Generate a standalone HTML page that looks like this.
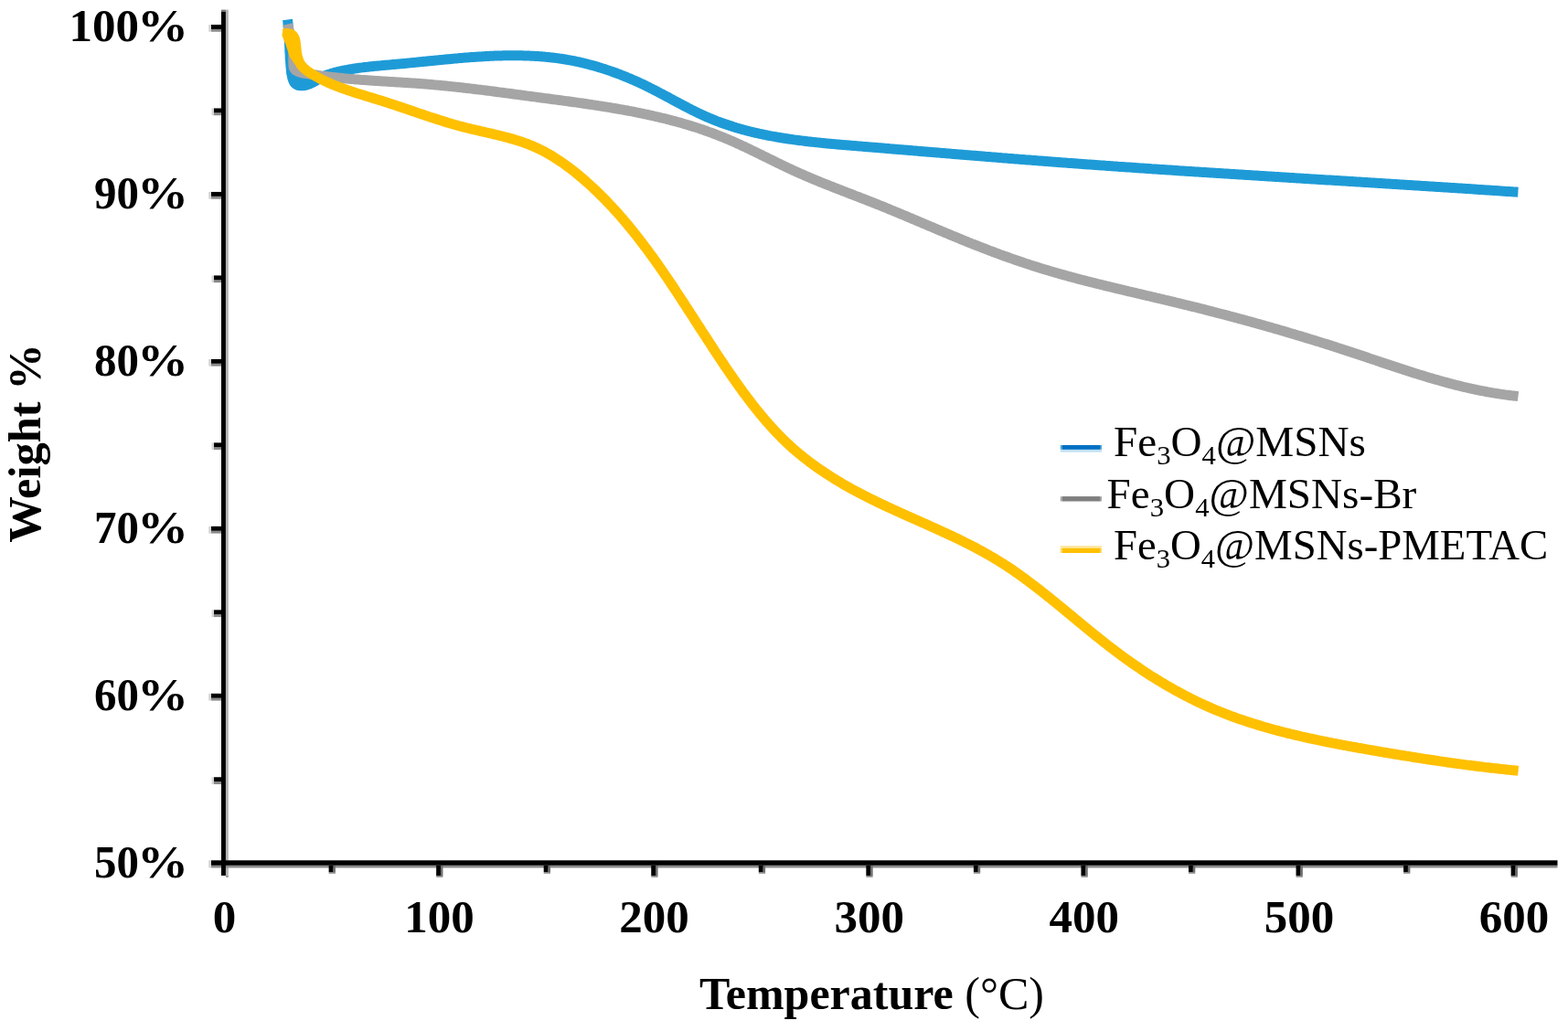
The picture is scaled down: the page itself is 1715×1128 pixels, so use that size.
<!DOCTYPE html>
<html><head><meta charset="utf-8"><title>TGA</title>
<style>html,body{margin:0;padding:0;background:#fff;}svg{display:block;}</style>
</head><body>
<svg width="1715" height="1128" viewBox="0 0 1715 1128">
<rect width="1715" height="1128" fill="#fff"/>
<rect x="246.90" y="10.60" width="2.90" height="949.00" fill="#b4b4b4"/>
<rect x="231.00" y="946.80" width="1472.50" height="2.70" fill="#8a8a8a"/>
<rect x="228.20" y="941.30" width="2.80" height="8.20" fill="#d6d6d6"/>
<rect x="231.00" y="31.90" width="11.00" height="2.85" fill="#8a8a8a"/>
<rect x="228.20" y="27.00" width="2.80" height="7.75" fill="#d6d6d6"/>
<rect x="231.00" y="214.85" width="11.00" height="2.85" fill="#8a8a8a"/>
<rect x="228.20" y="209.95" width="2.80" height="7.75" fill="#d6d6d6"/>
<rect x="231.00" y="397.80" width="11.00" height="2.85" fill="#8a8a8a"/>
<rect x="228.20" y="392.90" width="2.80" height="7.75" fill="#d6d6d6"/>
<rect x="231.00" y="580.75" width="11.00" height="2.85" fill="#8a8a8a"/>
<rect x="228.20" y="575.85" width="2.80" height="7.75" fill="#d6d6d6"/>
<rect x="231.00" y="763.70" width="11.00" height="2.85" fill="#8a8a8a"/>
<rect x="228.20" y="758.80" width="2.80" height="7.75" fill="#d6d6d6"/>
<rect x="234.00" y="123.38" width="8.00" height="2.85" fill="#8a8a8a"/>
<rect x="231.50" y="118.47" width="2.50" height="7.75" fill="#d6d6d6"/>
<rect x="234.00" y="306.32" width="8.00" height="2.85" fill="#8a8a8a"/>
<rect x="231.50" y="301.42" width="2.50" height="7.75" fill="#d6d6d6"/>
<rect x="234.00" y="489.27" width="8.00" height="2.85" fill="#8a8a8a"/>
<rect x="231.50" y="484.38" width="2.50" height="7.75" fill="#d6d6d6"/>
<rect x="234.00" y="672.23" width="8.00" height="2.85" fill="#8a8a8a"/>
<rect x="231.50" y="667.32" width="2.50" height="7.75" fill="#d6d6d6"/>
<rect x="234.00" y="855.18" width="8.00" height="2.85" fill="#8a8a8a"/>
<rect x="231.50" y="850.27" width="2.50" height="7.75" fill="#d6d6d6"/>
<rect x="481.95" y="946.80" width="2.50" height="11.20" fill="#6e6e6e"/>
<rect x="477.15" y="958.00" width="7.30" height="1.80" fill="#8a8a8a"/>
<rect x="717.05" y="946.80" width="2.50" height="11.20" fill="#6e6e6e"/>
<rect x="712.25" y="958.00" width="7.30" height="1.80" fill="#8a8a8a"/>
<rect x="952.15" y="946.80" width="2.50" height="11.20" fill="#6e6e6e"/>
<rect x="947.35" y="958.00" width="7.30" height="1.80" fill="#8a8a8a"/>
<rect x="1187.25" y="946.80" width="2.50" height="11.20" fill="#6e6e6e"/>
<rect x="1182.45" y="958.00" width="7.30" height="1.80" fill="#8a8a8a"/>
<rect x="1422.35" y="946.80" width="2.50" height="11.20" fill="#6e6e6e"/>
<rect x="1417.55" y="958.00" width="7.30" height="1.80" fill="#8a8a8a"/>
<rect x="1657.45" y="946.80" width="2.50" height="11.20" fill="#6e6e6e"/>
<rect x="1652.65" y="958.00" width="7.30" height="1.80" fill="#8a8a8a"/>
<rect x="364.40" y="946.80" width="2.50" height="7.20" fill="#6e6e6e"/>
<rect x="359.60" y="954.00" width="7.30" height="1.80" fill="#8a8a8a"/>
<rect x="599.50" y="946.80" width="2.50" height="7.20" fill="#6e6e6e"/>
<rect x="594.70" y="954.00" width="7.30" height="1.80" fill="#8a8a8a"/>
<rect x="834.60" y="946.80" width="2.50" height="7.20" fill="#6e6e6e"/>
<rect x="829.80" y="954.00" width="7.30" height="1.80" fill="#8a8a8a"/>
<rect x="1069.70" y="946.80" width="2.50" height="7.20" fill="#6e6e6e"/>
<rect x="1064.90" y="954.00" width="7.30" height="1.80" fill="#8a8a8a"/>
<rect x="1304.80" y="946.80" width="2.50" height="7.20" fill="#6e6e6e"/>
<rect x="1300.00" y="954.00" width="7.30" height="1.80" fill="#8a8a8a"/>
<rect x="1539.90" y="946.80" width="2.50" height="7.20" fill="#6e6e6e"/>
<rect x="1535.10" y="954.00" width="7.30" height="1.80" fill="#8a8a8a"/>
<rect x="242.00" y="10.60" width="4.90" height="2.20" fill="#7a7a7a"/>
<rect x="246.90" y="958.00" width="2.90" height="1.80" fill="#9a9a9a"/>
<rect x="242.00" y="12.80" width="4.90" height="945.20" fill="#000"/>
<rect x="231.00" y="941.30" width="1472.50" height="5.50" fill="#000"/>
<rect x="231.00" y="27.00" width="11.00" height="4.90" fill="#000"/>
<rect x="231.00" y="209.95" width="11.00" height="4.90" fill="#000"/>
<rect x="231.00" y="392.90" width="11.00" height="4.90" fill="#000"/>
<rect x="231.00" y="575.85" width="11.00" height="4.90" fill="#000"/>
<rect x="231.00" y="758.80" width="11.00" height="4.90" fill="#000"/>
<rect x="234.00" y="118.47" width="8.00" height="4.90" fill="#000"/>
<rect x="234.00" y="301.42" width="8.00" height="4.90" fill="#000"/>
<rect x="234.00" y="484.38" width="8.00" height="4.90" fill="#000"/>
<rect x="234.00" y="667.32" width="8.00" height="4.90" fill="#000"/>
<rect x="234.00" y="850.27" width="8.00" height="4.90" fill="#000"/>
<rect x="477.15" y="946.80" width="4.80" height="11.20" fill="#000"/>
<rect x="712.25" y="946.80" width="4.80" height="11.20" fill="#000"/>
<rect x="947.35" y="946.80" width="4.80" height="11.20" fill="#000"/>
<rect x="1182.45" y="946.80" width="4.80" height="11.20" fill="#000"/>
<rect x="1417.55" y="946.80" width="4.80" height="11.20" fill="#000"/>
<rect x="1652.65" y="946.80" width="4.80" height="11.20" fill="#000"/>
<rect x="359.60" y="946.80" width="4.80" height="7.20" fill="#000"/>
<rect x="594.70" y="946.80" width="4.80" height="7.20" fill="#000"/>
<rect x="829.80" y="946.80" width="4.80" height="7.20" fill="#000"/>
<rect x="1064.90" y="946.80" width="4.80" height="7.20" fill="#000"/>
<rect x="1300.00" y="946.80" width="4.80" height="7.20" fill="#000"/>
<rect x="1535.10" y="946.80" width="4.80" height="7.20" fill="#000"/>
<g fill="none" stroke-width="11.0" stroke-linejoin="round" stroke-linecap="butt">
<path stroke="#1e9bd7" d="M314.5,21.5L314.7,23.1L314.9,24.7L315.0,26.3L315.2,27.9L315.3,29.5L315.5,31.1L315.6,32.6L315.7,34.2L315.8,35.8L315.9,37.4L316.0,39.0L316.1,40.6L316.2,42.2L316.3,43.8L316.4,45.3L316.5,46.9L316.5,48.5L316.6,50.1L316.7,51.7L316.8,53.3L316.8,54.9L316.9,56.4L317.0,58.0L317.1,59.6L317.2,61.2L317.2,62.8L317.3,64.4L317.5,66.0L317.6,67.6L317.7,69.2L317.8,70.8L318.0,72.4L318.1,74.0L318.3,75.6L318.4,77.2L318.6,78.8L318.8,80.4L319.1,82.0L319.4,83.5L319.7,85.1L320.2,86.6L320.7,88.1L321.4,89.5L322.2,90.8L323.3,91.9L324.5,92.7L326.0,93.3L327.6,93.6L329.3,93.8L331.0,93.7L332.7,93.6L334.3,93.3L335.9,92.8L337.4,92.3L338.9,91.8L340.4,91.1L341.8,90.4L343.2,89.6L344.6,88.9L345.9,88.0L347.3,87.2L348.7,86.4L350.0,85.6L351.4,84.8L352.8,84.1L354.3,83.4L355.7,82.8L357.2,82.2L358.7,81.6L360.2,81.1L361.7,80.6L363.2,80.1L364.7,79.7L366.3,79.2L367.8,78.9L369.4,78.5L370.9,78.1L372.5,77.8L374.0,77.5L375.6,77.1L377.2,76.8L378.7,76.6L380.3,76.3L381.9,76.0L383.4,75.7L385.0,75.5L386.6,75.2L388.1,75.0L389.7,74.8L391.3,74.5L392.8,74.3L394.4,74.1L396.0,73.9L397.6,73.7L399.1,73.5L400.7,73.4L402.3,73.2L403.8,73.0L405.4,72.8L407.0,72.7L408.5,72.5L410.1,72.3L411.7,72.2L413.3,72.0L414.8,71.9L416.4,71.8L418.0,71.6L419.6,71.5L421.1,71.3L422.7,71.2L424.3,71.1L425.9,70.9L427.5,70.8L429.0,70.6L430.6,70.5L432.2,70.4L433.8,70.2L435.4,70.1L437.0,69.9L438.5,69.8L440.1,69.7L441.7,69.5L443.3,69.4L444.9,69.2L446.5,69.1L448.1,68.9L449.7,68.7L451.2,68.6L452.8,68.4L454.4,68.3L456.0,68.1L457.6,68.0L459.2,67.8L460.8,67.6L462.4,67.5L464.0,67.3L465.6,67.2L467.2,67.0L468.8,66.8L470.4,66.7L472.0,66.5L473.6,66.4L475.2,66.2L476.8,66.0L478.4,65.9L480.0,65.7L481.6,65.6L483.2,65.4L484.8,65.3L486.4,65.1L488.0,65.0L489.6,64.8L491.2,64.7L492.8,64.5L494.4,64.4L496.0,64.2L497.6,64.1L499.2,63.9L500.8,63.8L502.4,63.6L504.0,63.5L505.6,63.4L507.2,63.2L508.8,63.1L510.4,63.0L512.0,62.9L513.6,62.7L515.2,62.6L516.8,62.5L518.4,62.4L520.0,62.3L521.7,62.2L523.3,62.1L524.9,62.0L526.5,61.9L528.1,61.8L529.7,61.7L531.3,61.6L532.9,61.5L534.5,61.4L536.1,61.3L537.7,61.3L539.3,61.2L540.9,61.1L542.5,61.1L544.1,61.0L545.7,61.0L547.3,60.9L548.9,60.9L550.4,60.8L552.0,60.8L553.6,60.8L555.2,60.8L556.8,60.7L558.4,60.7L560.0,60.7L561.6,60.7L563.2,60.7L564.8,60.7L566.4,60.8L568.0,60.8L569.6,60.8L571.2,60.8L572.7,60.9L574.3,60.9L575.9,61.0L577.5,61.0L579.1,61.1L580.7,61.2L582.2,61.2L583.8,61.3L585.4,61.4L587.0,61.5L588.6,61.6L590.1,61.7L591.7,61.8L593.3,62.0L594.9,62.1L596.5,62.2L598.0,62.4L599.6,62.5L601.2,62.7L602.7,62.9L604.3,63.0L605.9,63.2L607.4,63.4L609.0,63.6L610.6,63.8L612.1,64.1L613.7,64.3L615.3,64.5L616.8,64.8L618.4,65.0L619.9,65.3L621.5,65.6L623.0,65.8L624.6,66.1L626.1,66.4L627.7,66.7L629.2,67.0L630.8,67.4L632.3,67.7L633.9,68.0L635.4,68.4L636.9,68.7L638.5,69.1L640.0,69.5L641.6,69.9L643.1,70.3L644.6,70.7L646.2,71.1L647.7,71.5L649.2,71.9L650.7,72.3L652.3,72.8L653.8,73.2L655.3,73.7L656.8,74.1L658.3,74.6L659.8,75.1L661.4,75.6L662.9,76.1L664.4,76.6L665.9,77.1L667.4,77.6L668.9,78.1L670.4,78.7L671.9,79.2L673.4,79.7L674.9,80.3L676.4,80.9L677.9,81.4L679.3,82.0L680.8,82.6L682.3,83.2L683.8,83.8L685.3,84.4L686.7,85.0L688.2,85.6L689.7,86.2L691.2,86.9L692.6,87.5L694.1,88.1L695.5,88.8L697.0,89.4L698.5,90.1L699.9,90.8L701.4,91.5L702.8,92.1L704.3,92.8L705.7,93.5L707.1,94.2L708.6,94.9L710.0,95.7L711.4,96.4L712.9,97.1L714.3,97.8L715.7,98.6L717.2,99.3L718.6,100.0L720.0,100.8L721.4,101.5L722.9,102.3L724.3,103.0L725.7,103.8L727.1,104.5L728.5,105.3L729.9,106.1L731.4,106.8L732.8,107.6L734.2,108.3L735.6,109.1L737.0,109.9L738.4,110.6L739.8,111.4L741.3,112.1L742.7,112.9L744.1,113.6L745.5,114.4L746.9,115.1L748.3,115.9L749.8,116.6L751.2,117.4L752.6,118.1L754.0,118.8L755.4,119.5L756.9,120.3L758.3,121.0L759.7,121.7L761.1,122.4L762.6,123.1L764.0,123.8L765.4,124.5L766.9,125.1L768.3,125.8L769.8,126.5L771.2,127.1L772.6,127.8L774.1,128.4L775.5,129.0L777.0,129.6L778.5,130.2L779.9,130.8L781.4,131.4L782.8,132.0L784.3,132.6L785.8,133.1L787.3,133.7L788.7,134.2L790.2,134.8L791.7,135.3L793.2,135.8L794.7,136.3L796.2,136.8L797.7,137.3L799.2,137.8L800.7,138.3L802.2,138.8L803.7,139.2L805.2,139.7L806.7,140.1L808.2,140.6L809.7,141.0L811.2,141.4L812.8,141.9L814.3,142.3L815.8,142.7L817.3,143.1L818.8,143.5L820.4,143.9L821.9,144.2L823.4,144.6L825.0,145.0L826.5,145.3L828.1,145.7L829.6,146.0L831.1,146.4L832.7,146.7L834.2,147.0L835.8,147.3L837.3,147.7L838.9,148.0L840.4,148.3L842.0,148.6L843.6,148.9L845.1,149.1L846.7,149.4L848.2,149.7L849.8,150.0L851.4,150.2L852.9,150.5L854.5,150.8L856.1,151.0L857.6,151.3L859.2,151.5L860.8,151.8L862.4,152.0L863.9,152.2L865.5,152.4L867.1,152.7L868.7,152.9L870.2,153.1L871.8,153.3L873.4,153.5L875.0,153.7L876.6,153.9L878.2,154.1L879.8,154.3L881.3,154.5L882.9,154.7L884.5,154.9L886.1,155.0L887.7,155.2L889.3,155.4L890.9,155.6L892.5,155.7L894.1,155.9L895.7,156.1L897.3,156.2L898.9,156.4L900.5,156.5L902.0,156.7L903.6,156.9L905.2,157.0L906.8,157.2L908.4,157.3L910.0,157.4L911.6,157.6L913.2,157.7L914.8,157.9L916.4,158.0L918.0,158.2L919.6,158.3L921.2,158.4L922.8,158.6L924.4,158.7L926.0,158.8L927.6,159.0L929.2,159.1L930.8,159.2L932.4,159.4L934.0,159.5L935.6,159.6L937.2,159.7L938.8,159.9L940.4,160.0L942.0,160.1L943.6,160.3L945.2,160.4L946.8,160.5L948.4,160.7L950.0,160.8L951.6,160.9L953.2,161.1L954.8,161.2L956.4,161.3L958.0,161.5L959.6,161.6L961.2,161.7L962.8,161.8L964.4,162.0L966.0,162.1L967.6,162.2L969.2,162.4L970.8,162.5L972.4,162.6L973.9,162.8L975.5,162.9L977.1,163.0L978.7,163.2L980.3,163.3L981.9,163.4L983.5,163.6L985.1,163.7L986.7,163.8L988.3,163.9L989.9,164.1L991.5,164.2L993.1,164.3L994.6,164.5L996.2,164.6L997.8,164.7L999.4,164.9L1001.0,165.0L1002.6,165.1L1004.2,165.3L1005.8,165.4L1007.4,165.5L1009.0,165.7L1010.5,165.8L1012.1,165.9L1013.7,166.0L1015.3,166.2L1016.9,166.3L1018.5,166.4L1020.1,166.6L1021.7,166.7L1023.3,166.8L1024.8,167.0L1026.4,167.1L1028.0,167.2L1029.6,167.4L1031.2,167.5L1032.8,167.6L1034.4,167.7L1036.0,167.9L1037.5,168.0L1039.1,168.1L1040.7,168.3L1042.3,168.4L1043.9,168.5L1045.5,168.7L1047.1,168.8L1048.7,168.9L1050.2,169.0L1051.8,169.2L1053.4,169.3L1055.0,169.4L1056.6,169.6L1058.2,169.7L1059.8,169.8L1061.3,169.9L1062.9,170.1L1064.5,170.2L1066.1,170.3L1067.7,170.5L1069.3,170.6L1070.9,170.7L1072.4,170.8L1074.0,171.0L1075.6,171.1L1077.2,171.2L1078.8,171.4L1080.4,171.5L1081.9,171.6L1083.5,171.7L1085.1,171.9L1086.7,172.0L1088.3,172.1L1089.9,172.2L1091.5,172.4L1093.0,172.5L1094.6,172.6L1096.2,172.8L1097.8,172.9L1099.4,173.0L1101.0,173.1L1102.5,173.3L1104.1,173.4L1105.7,173.5L1107.3,173.6L1108.9,173.8L1110.5,173.9L1112.1,174.0L1113.6,174.1L1115.2,174.3L1116.8,174.4L1118.4,174.5L1120.0,174.6L1121.6,174.8L1123.1,174.9L1124.7,175.0L1126.3,175.1L1127.9,175.2L1129.5,175.4L1131.1,175.5L1132.7,175.6L1134.2,175.7L1135.8,175.9L1137.4,176.0L1139.0,176.1L1140.6,176.2L1142.2,176.3L1143.7,176.5L1145.3,176.6L1146.9,176.7L1148.5,176.8L1150.1,176.9L1151.7,177.1L1153.3,177.2L1154.8,177.3L1156.4,177.4L1158.0,177.5L1159.6,177.7L1161.2,177.8L1162.8,177.9L1164.4,178.0L1165.9,178.1L1167.5,178.3L1169.1,178.4L1170.7,178.5L1172.3,178.6L1173.9,178.7L1175.5,178.8L1177.0,179.0L1178.6,179.1L1180.2,179.2L1181.8,179.3L1183.4,179.4L1185.0,179.5L1186.6,179.7L1188.2,179.8L1189.7,179.9L1191.3,180.0L1192.9,180.1L1194.5,180.2L1196.1,180.3L1197.7,180.5L1199.3,180.6L1200.8,180.7L1202.4,180.8L1204.0,180.9L1205.6,181.0L1207.2,181.1L1208.8,181.2L1210.4,181.4L1212.0,181.5L1213.6,181.6L1215.1,181.7L1216.7,181.8L1218.3,181.9L1219.9,182.0L1221.5,182.1L1223.1,182.3L1224.7,182.4L1226.3,182.5L1227.8,182.6L1229.4,182.7L1231.0,182.8L1232.6,182.9L1234.2,183.0L1235.8,183.1L1237.4,183.2L1239.0,183.3L1240.6,183.5L1242.1,183.6L1243.7,183.7L1245.3,183.8L1246.9,183.9L1248.5,184.0L1250.1,184.1L1251.7,184.2L1253.3,184.3L1254.9,184.4L1256.5,184.5L1258.0,184.6L1259.6,184.8L1261.2,184.9L1262.8,185.0L1264.4,185.1L1266.0,185.2L1267.6,185.3L1269.2,185.4L1270.8,185.5L1272.4,185.6L1273.9,185.7L1275.5,185.8L1277.1,185.9L1278.7,186.0L1280.3,186.1L1281.9,186.2L1283.5,186.3L1285.1,186.4L1286.7,186.5L1288.3,186.7L1289.8,186.8L1291.4,186.9L1293.0,187.0L1294.6,187.1L1296.2,187.2L1297.8,187.3L1299.4,187.4L1301.0,187.5L1302.6,187.6L1304.2,187.7L1305.8,187.8L1307.3,187.9L1308.9,188.0L1310.5,188.1L1312.1,188.2L1313.7,188.3L1315.3,188.4L1316.9,188.5L1318.5,188.6L1320.1,188.7L1321.7,188.8L1323.3,188.9L1324.9,189.0L1326.4,189.1L1328.0,189.2L1329.6,189.3L1331.2,189.4L1332.8,189.5L1334.4,189.6L1336.0,189.7L1337.6,189.8L1339.2,189.9L1340.8,190.0L1342.4,190.1L1344.0,190.2L1345.5,190.3L1347.1,190.4L1348.7,190.5L1350.3,190.6L1351.9,190.7L1353.5,190.8L1355.1,190.9L1356.7,191.0L1358.3,191.1L1359.9,191.2L1361.5,191.3L1363.1,191.4L1364.6,191.5L1366.2,191.6L1367.8,191.7L1369.4,191.8L1371.0,191.9L1372.6,192.0L1374.2,192.1L1375.8,192.2L1377.4,192.3L1379.0,192.4L1380.6,192.5L1382.2,192.6L1383.8,192.7L1385.3,192.8L1386.9,192.9L1388.5,193.0L1390.1,193.1L1391.7,193.2L1393.3,193.3L1394.9,193.4L1396.5,193.5L1398.1,193.6L1399.7,193.7L1401.3,193.8L1402.9,193.9L1404.4,194.0L1406.0,194.1L1407.6,194.2L1409.2,194.3L1410.8,194.4L1412.4,194.5L1414.0,194.6L1415.6,194.7L1417.2,194.8L1418.8,194.9L1420.4,195.0L1422.0,195.1L1423.6,195.2L1425.1,195.3L1426.7,195.4L1428.3,195.5L1429.9,195.6L1431.5,195.7L1433.1,195.8L1434.7,195.9L1436.3,196.0L1437.9,196.1L1439.5,196.2L1441.1,196.3L1442.7,196.4L1444.2,196.5L1445.8,196.6L1447.4,196.7L1449.0,196.8L1450.6,196.9L1452.2,196.9L1453.8,197.0L1455.4,197.1L1457.0,197.2L1458.6,197.3L1460.2,197.4L1461.8,197.5L1463.4,197.6L1464.9,197.7L1466.5,197.8L1468.1,197.9L1469.7,198.0L1471.3,198.1L1472.9,198.2L1474.5,198.3L1476.1,198.4L1477.7,198.5L1479.3,198.6L1480.9,198.7L1482.4,198.8L1484.0,198.9L1485.6,199.0L1487.2,199.1L1488.8,199.2L1490.4,199.3L1492.0,199.4L1493.6,199.5L1495.2,199.6L1496.8,199.7L1498.4,199.8L1500.0,199.9L1501.5,200.0L1503.1,200.1L1504.7,200.2L1506.3,200.3L1507.9,200.4L1509.5,200.5L1511.1,200.6L1512.7,200.7L1514.3,200.8L1515.9,200.9L1517.5,201.0L1519.0,201.1L1520.6,201.2L1522.2,201.3L1523.8,201.4L1525.4,201.5L1527.0,201.6L1528.6,201.7L1530.2,201.8L1531.8,201.9L1533.4,202.0L1534.9,202.1L1536.5,202.2L1538.1,202.3L1539.7,202.4L1541.3,202.5L1542.9,202.6L1544.5,202.7L1546.1,202.8L1547.7,202.9L1549.3,203.0L1550.8,203.1L1552.4,203.2L1554.0,203.3L1555.6,203.4L1557.2,203.5L1558.8,203.6L1560.4,203.7L1562.0,203.8L1563.6,203.9L1565.1,204.0L1566.7,204.1L1568.3,204.2L1569.9,204.3L1571.5,204.4L1573.1,204.5L1574.7,204.6L1576.3,204.7L1577.9,204.8L1579.4,204.9L1581.0,205.0L1582.6,205.1L1584.2,205.2L1585.8,205.3L1587.4,205.4L1589.0,205.5L1590.6,205.6L1592.2,205.7L1593.7,205.8L1595.3,205.9L1596.9,206.0L1598.5,206.1L1600.1,206.2L1601.7,206.3L1603.3,206.4L1604.9,206.5L1606.4,206.6L1608.0,206.7L1609.6,206.8L1611.2,206.9L1612.8,207.0L1614.4,207.2L1616.0,207.3L1617.6,207.4L1619.1,207.5L1620.7,207.6L1622.3,207.7L1623.9,207.8L1625.5,207.9L1627.1,208.0L1628.7,208.1L1630.2,208.2L1631.8,208.3L1633.4,208.4L1635.0,208.5L1636.6,208.6L1638.2,208.7L1639.8,208.8L1641.3,208.9L1642.9,209.1L1644.5,209.2L1646.1,209.3L1647.7,209.4L1649.3,209.5L1650.9,209.6L1652.4,209.7L1654.0,209.8L1655.6,209.9L1657.2,210.0L1658.8,210.1L1660.4,210.2"/>
<path stroke="#1e9bd7" stroke-linecap="round" d="M319,80 L325,88 L336,90"/>
<path stroke="#a5a5a5" d="M314.5,26.5L314.9,28.1L315.3,29.6L315.7,31.2L316.1,32.7L316.5,34.3L316.9,35.8L317.3,37.4L317.7,38.9L318.1,40.5L318.5,42.1L318.8,43.6L319.2,45.2L319.5,46.8L319.7,48.4L320.0,50.0L320.2,51.5L320.4,53.1L320.5,54.7L320.6,56.3L320.7,57.9L320.7,59.5L320.8,61.2L320.8,62.8L320.8,64.4L320.8,66.1L320.8,67.7L320.8,69.4L320.9,71.1L321.1,72.7L321.5,74.2L322.1,75.5L323.0,76.6L324.2,77.5L325.5,78.2L327.0,78.8L328.6,79.3L330.3,79.7L331.9,80.1L333.5,80.4L335.2,80.6L336.8,80.9L338.4,81.1L340.0,81.3L341.6,81.6L343.2,81.8L344.8,82.0L346.4,82.2L348.0,82.5L349.6,82.7L351.2,82.9L352.7,83.1L354.3,83.3L355.9,83.5L357.5,83.7L359.1,83.9L360.7,84.1L362.3,84.3L363.8,84.5L365.4,84.7L367.0,84.8L368.6,85.0L370.2,85.2L371.8,85.3L373.4,85.5L375.0,85.6L376.6,85.8L378.2,85.9L379.8,86.1L381.4,86.2L383.0,86.4L384.6,86.5L386.2,86.6L387.8,86.8L389.4,86.9L391.0,87.0L392.6,87.1L394.2,87.3L395.8,87.4L397.4,87.5L399.0,87.6L400.6,87.7L402.3,87.8L403.9,87.9L405.5,88.0L407.1,88.2L408.7,88.3L410.3,88.4L411.9,88.5L413.5,88.6L415.1,88.7L416.7,88.8L418.4,88.9L420.0,89.0L421.6,89.1L423.2,89.2L424.8,89.3L426.4,89.4L428.0,89.5L429.6,89.6L431.2,89.7L432.8,89.8L434.5,89.9L436.1,90.0L437.7,90.1L439.3,90.2L440.9,90.3L442.5,90.4L444.1,90.5L445.7,90.6L447.3,90.7L448.9,90.8L450.5,90.9L452.2,91.0L453.8,91.1L455.4,91.2L457.0,91.3L458.6,91.5L460.2,91.6L461.8,91.7L463.4,91.8L465.0,92.0L466.6,92.1L468.2,92.2L469.8,92.3L471.4,92.5L473.0,92.6L474.6,92.8L476.2,92.9L477.8,93.1L479.4,93.2L481.0,93.3L482.6,93.5L484.2,93.7L485.7,93.8L487.3,94.0L488.9,94.1L490.5,94.3L492.1,94.4L493.7,94.6L495.3,94.8L496.9,94.9L498.5,95.1L500.1,95.3L501.7,95.5L503.2,95.6L504.8,95.8L506.4,96.0L508.0,96.2L509.6,96.4L511.2,96.5L512.8,96.7L514.4,96.9L516.0,97.1L517.5,97.3L519.1,97.5L520.7,97.7L522.3,97.9L523.9,98.1L525.5,98.2L527.1,98.4L528.6,98.6L530.2,98.8L531.8,99.0L533.4,99.2L535.0,99.4L536.6,99.6L538.2,99.8L539.7,100.0L541.3,100.2L542.9,100.5L544.5,100.7L546.1,100.9L547.7,101.1L549.3,101.3L550.8,101.5L552.4,101.7L554.0,101.9L555.6,102.1L557.2,102.3L558.8,102.5L560.4,102.7L562.0,103.0L563.5,103.2L565.1,103.4L566.7,103.6L568.3,103.8L569.9,104.0L571.5,104.2L573.1,104.4L574.7,104.7L576.3,104.9L577.8,105.1L579.4,105.3L581.0,105.5L582.6,105.7L584.2,105.9L585.8,106.1L587.4,106.3L589.0,106.6L590.6,106.8L592.2,107.0L593.8,107.2L595.4,107.4L597.0,107.6L598.6,107.8L600.2,108.0L601.8,108.2L603.4,108.5L605.0,108.7L606.6,108.9L608.2,109.1L609.8,109.3L611.4,109.5L613.0,109.7L614.6,109.9L616.2,110.2L617.8,110.4L619.4,110.6L621.0,110.8L622.6,111.0L624.2,111.3L625.8,111.5L627.4,111.7L629.0,111.9L630.6,112.1L632.2,112.4L633.8,112.6L635.4,112.8L637.0,113.0L638.6,113.3L640.1,113.5L641.7,113.7L643.3,114.0L644.9,114.2L646.5,114.4L648.1,114.7L649.7,114.9L651.3,115.2L652.9,115.4L654.5,115.7L656.1,115.9L657.7,116.2L659.3,116.4L660.9,116.7L662.5,116.9L664.1,117.2L665.7,117.4L667.3,117.7L668.9,118.0L670.5,118.2L672.1,118.5L673.7,118.8L675.2,119.0L676.8,119.3L678.4,119.6L680.0,119.9L681.6,120.2L683.2,120.5L684.8,120.7L686.3,121.0L687.9,121.3L689.5,121.6L691.1,121.9L692.7,122.2L694.3,122.5L695.8,122.9L697.4,123.2L699.0,123.5L700.6,123.8L702.1,124.1L703.7,124.5L705.3,124.8L706.9,125.1L708.4,125.5L710.0,125.8L711.6,126.2L713.2,126.5L714.7,126.9L716.3,127.2L717.8,127.6L719.4,127.9L721.0,128.3L722.5,128.7L724.1,129.1L725.7,129.4L727.2,129.8L728.8,130.2L730.3,130.6L731.9,131.0L733.4,131.4L735.0,131.8L736.5,132.2L738.1,132.6L739.6,133.0L741.2,133.5L742.7,133.9L744.2,134.3L745.8,134.8L747.3,135.2L748.9,135.7L750.4,136.1L751.9,136.6L753.5,137.0L755.0,137.5L756.5,138.0L758.0,138.5L759.6,138.9L761.1,139.4L762.6,139.9L764.1,140.4L765.6,140.9L767.2,141.4L768.7,141.9L770.2,142.5L771.7,143.0L773.2,143.5L774.7,144.1L776.2,144.6L777.7,145.1L779.2,145.7L780.7,146.3L782.2,146.8L783.7,147.4L785.2,148.0L786.7,148.6L788.2,149.2L789.7,149.7L791.1,150.3L792.6,151.0L794.1,151.6L795.6,152.2L797.0,152.8L798.5,153.5L800.0,154.1L801.5,154.7L802.9,155.4L804.4,156.0L805.8,156.7L807.3,157.4L808.8,158.0L810.2,158.7L811.7,159.4L813.1,160.1L814.6,160.7L816.0,161.4L817.5,162.1L818.9,162.8L820.4,163.5L821.8,164.2L823.3,164.9L824.7,165.6L826.2,166.3L827.6,167.0L829.1,167.7L830.5,168.4L832.0,169.1L833.4,169.9L834.9,170.6L836.3,171.3L837.8,172.0L839.2,172.7L840.6,173.4L842.1,174.1L843.5,174.8L845.0,175.5L846.4,176.3L847.9,177.0L849.3,177.7L850.8,178.4L852.2,179.1L853.7,179.8L855.1,180.5L856.6,181.2L858.0,181.9L859.5,182.6L860.9,183.3L862.4,184.0L863.8,184.6L865.3,185.3L866.7,186.0L868.2,186.7L869.7,187.3L871.1,188.0L872.6,188.7L874.1,189.3L875.5,190.0L877.0,190.6L878.5,191.3L879.9,191.9L881.4,192.6L882.9,193.2L884.4,193.8L885.8,194.4L887.3,195.1L888.8,195.7L890.3,196.3L891.8,196.9L893.2,197.5L894.7,198.1L896.2,198.8L897.7,199.4L899.2,200.0L900.7,200.6L902.2,201.2L903.6,201.8L905.1,202.3L906.6,202.9L908.1,203.5L909.6,204.1L911.1,204.7L912.6,205.3L914.1,205.9L915.6,206.5L917.1,207.0L918.6,207.6L920.1,208.2L921.6,208.8L923.1,209.4L924.6,209.9L926.0,210.5L927.5,211.1L929.0,211.7L930.5,212.3L932.0,212.8L933.5,213.4L935.0,214.0L936.5,214.6L938.0,215.1L939.5,215.7L941.0,216.3L942.5,216.9L944.0,217.5L945.5,218.0L947.0,218.6L948.5,219.2L950.0,219.8L951.5,220.4L953.0,221.0L954.5,221.5L955.9,222.1L957.4,222.7L958.9,223.3L960.4,223.9L961.9,224.5L963.4,225.1L964.9,225.7L966.4,226.3L967.9,226.9L969.3,227.5L970.8,228.1L972.3,228.7L973.8,229.4L975.3,230.0L976.8,230.6L978.3,231.2L979.7,231.8L981.2,232.4L982.7,233.0L984.2,233.7L985.7,234.3L987.1,234.9L988.6,235.5L990.1,236.1L991.6,236.8L993.1,237.4L994.5,238.0L996.0,238.6L997.5,239.3L999.0,239.9L1000.5,240.5L1001.9,241.1L1003.4,241.8L1004.9,242.4L1006.4,243.0L1007.9,243.6L1009.3,244.3L1010.8,244.9L1012.3,245.5L1013.8,246.1L1015.2,246.8L1016.7,247.4L1018.2,248.0L1019.7,248.6L1021.2,249.3L1022.6,249.9L1024.1,250.5L1025.6,251.2L1027.1,251.8L1028.6,252.4L1030.0,253.0L1031.5,253.6L1033.0,254.3L1034.5,254.9L1036.0,255.5L1037.5,256.1L1038.9,256.7L1040.4,257.4L1041.9,258.0L1043.4,258.6L1044.9,259.2L1046.4,259.8L1047.8,260.4L1049.3,261.0L1050.8,261.7L1052.3,262.3L1053.8,262.9L1055.3,263.5L1056.8,264.1L1058.3,264.7L1059.7,265.3L1061.2,265.9L1062.7,266.5L1064.2,267.1L1065.7,267.7L1067.2,268.3L1068.7,268.8L1070.2,269.4L1071.7,270.0L1073.2,270.6L1074.7,271.2L1076.2,271.8L1077.7,272.3L1079.2,272.9L1080.7,273.5L1082.2,274.1L1083.7,274.6L1085.2,275.2L1086.7,275.8L1088.2,276.3L1089.7,276.9L1091.2,277.4L1092.7,278.0L1094.2,278.6L1095.7,279.1L1097.2,279.7L1098.8,280.2L1100.3,280.7L1101.8,281.3L1103.3,281.8L1104.8,282.4L1106.3,282.9L1107.8,283.4L1109.3,284.0L1110.9,284.5L1112.4,285.0L1113.9,285.5L1115.4,286.0L1116.9,286.6L1118.5,287.1L1120.0,287.6L1121.5,288.1L1123.0,288.6L1124.6,289.1L1126.1,289.6L1127.6,290.1L1129.1,290.6L1130.7,291.1L1132.2,291.5L1133.7,292.0L1135.2,292.5L1136.8,293.0L1138.3,293.5L1139.8,293.9L1141.4,294.4L1142.9,294.9L1144.5,295.3L1146.0,295.8L1147.5,296.2L1149.1,296.7L1150.6,297.1L1152.1,297.6L1153.7,298.0L1155.2,298.5L1156.8,298.9L1158.3,299.4L1159.9,299.8L1161.4,300.2L1162.9,300.7L1164.5,301.1L1166.0,301.5L1167.6,302.0L1169.1,302.4L1170.7,302.8L1172.2,303.2L1173.8,303.6L1175.3,304.0L1176.9,304.5L1178.4,304.9L1180.0,305.3L1181.5,305.7L1183.1,306.1L1184.6,306.5L1186.2,306.9L1187.8,307.3L1189.3,307.7L1190.9,308.1L1192.4,308.5L1194.0,308.9L1195.5,309.3L1197.1,309.7L1198.7,310.1L1200.2,310.5L1201.8,310.9L1203.3,311.2L1204.9,311.6L1206.5,312.0L1208.0,312.4L1209.6,312.8L1211.1,313.2L1212.7,313.5L1214.3,313.9L1215.8,314.3L1217.4,314.7L1218.9,315.0L1220.5,315.4L1222.1,315.8L1223.6,316.2L1225.2,316.5L1226.8,316.9L1228.3,317.3L1229.9,317.7L1231.4,318.0L1233.0,318.4L1234.6,318.8L1236.1,319.1L1237.7,319.5L1239.3,319.9L1240.8,320.2L1242.4,320.6L1244.0,321.0L1245.5,321.4L1247.1,321.7L1248.7,322.1L1250.2,322.5L1251.8,322.8L1253.3,323.2L1254.9,323.6L1256.5,323.9L1258.0,324.3L1259.6,324.7L1261.2,325.0L1262.7,325.4L1264.3,325.8L1265.9,326.1L1267.4,326.5L1269.0,326.9L1270.6,327.2L1272.1,327.6L1273.7,328.0L1275.3,328.4L1276.8,328.7L1278.4,329.1L1279.9,329.5L1281.5,329.8L1283.1,330.2L1284.6,330.6L1286.2,331.0L1287.8,331.4L1289.3,331.7L1290.9,332.1L1292.4,332.5L1294.0,332.9L1295.6,333.3L1297.1,333.6L1298.7,334.0L1300.2,334.4L1301.8,334.8L1303.4,335.2L1304.9,335.6L1306.5,335.9L1308.0,336.3L1309.6,336.7L1311.1,337.1L1312.7,337.5L1314.3,337.9L1315.8,338.3L1317.4,338.7L1318.9,339.1L1320.5,339.5L1322.0,339.9L1323.6,340.3L1325.2,340.7L1326.7,341.1L1328.3,341.5L1329.8,341.9L1331.4,342.3L1332.9,342.7L1334.5,343.1L1336.0,343.5L1337.6,343.9L1339.1,344.3L1340.7,344.7L1342.2,345.1L1343.8,345.5L1345.3,346.0L1346.9,346.4L1348.4,346.8L1350.0,347.2L1351.5,347.6L1353.1,348.0L1354.6,348.4L1356.2,348.9L1357.7,349.3L1359.3,349.7L1360.8,350.1L1362.4,350.5L1363.9,351.0L1365.5,351.4L1367.0,351.8L1368.6,352.2L1370.1,352.7L1371.7,353.1L1373.2,353.5L1374.8,354.0L1376.3,354.4L1377.9,354.8L1379.4,355.3L1381.0,355.7L1382.5,356.1L1384.0,356.6L1385.6,357.0L1387.1,357.4L1388.7,357.9L1390.2,358.3L1391.8,358.8L1393.3,359.2L1394.8,359.7L1396.4,360.1L1397.9,360.5L1399.5,361.0L1401.0,361.4L1402.6,361.9L1404.1,362.3L1405.6,362.8L1407.2,363.2L1408.7,363.7L1410.3,364.2L1411.8,364.6L1413.3,365.1L1414.9,365.5L1416.4,366.0L1417.9,366.4L1419.5,366.9L1421.0,367.4L1422.6,367.8L1424.1,368.3L1425.6,368.8L1427.2,369.2L1428.7,369.7L1430.2,370.2L1431.8,370.6L1433.3,371.1L1434.8,371.6L1436.4,372.0L1437.9,372.5L1439.4,373.0L1441.0,373.5L1442.5,373.9L1444.0,374.4L1445.6,374.9L1447.1,375.4L1448.6,375.9L1450.2,376.3L1451.7,376.8L1453.2,377.3L1454.8,377.8L1456.3,378.3L1457.8,378.8L1459.4,379.3L1460.9,379.8L1462.4,380.3L1463.9,380.7L1465.5,381.2L1467.0,381.7L1468.5,382.2L1470.1,382.7L1471.6,383.2L1473.1,383.7L1474.6,384.2L1476.2,384.7L1477.7,385.2L1479.2,385.7L1480.7,386.2L1482.3,386.8L1483.8,387.3L1485.3,387.8L1486.8,388.3L1488.4,388.8L1489.9,389.3L1491.4,389.8L1492.9,390.3L1494.5,390.8L1496.0,391.3L1497.5,391.9L1499.0,392.4L1500.6,392.9L1502.1,393.4L1503.6,393.9L1505.1,394.4L1506.7,394.9L1508.2,395.4L1509.7,396.0L1511.2,396.5L1512.7,397.0L1514.3,397.5L1515.8,398.0L1517.3,398.5L1518.8,399.0L1520.4,399.5L1521.9,400.0L1523.4,400.5L1524.9,401.0L1526.5,401.5L1528.0,402.0L1529.5,402.5L1531.1,403.0L1532.6,403.5L1534.1,404.0L1535.6,404.5L1537.2,405.0L1538.7,405.5L1540.2,406.0L1541.7,406.5L1543.3,407.0L1544.8,407.5L1546.3,408.0L1547.9,408.5L1549.4,408.9L1550.9,409.4L1552.5,409.9L1554.0,410.4L1555.5,410.8L1557.1,411.3L1558.6,411.8L1560.1,412.2L1561.7,412.7L1563.2,413.2L1564.7,413.6L1566.3,414.1L1567.8,414.5L1569.4,415.0L1570.9,415.4L1572.4,415.8L1574.0,416.3L1575.5,416.7L1577.1,417.1L1578.6,417.6L1580.2,418.0L1581.7,418.4L1583.3,418.8L1584.8,419.3L1586.4,419.7L1587.9,420.1L1589.5,420.5L1591.0,420.9L1592.6,421.3L1594.1,421.7L1595.7,422.0L1597.2,422.4L1598.8,422.8L1600.3,423.2L1601.9,423.6L1603.5,423.9L1605.0,424.3L1606.6,424.6L1608.1,425.0L1609.7,425.3L1611.3,425.7L1612.8,426.0L1614.4,426.3L1616.0,426.7L1617.6,427.0L1619.1,427.3L1620.7,427.6L1622.3,427.9L1623.8,428.2L1625.4,428.5L1627.0,428.8L1628.6,429.1L1630.2,429.4L1631.7,429.7L1633.3,429.9L1634.9,430.2L1636.5,430.4L1638.1,430.7L1639.7,430.9L1641.3,431.2L1642.9,431.4L1644.5,431.6L1646.1,431.9L1647.7,432.1L1649.3,432.3L1650.9,432.5L1652.5,432.7L1654.1,432.9L1655.7,433.0L1657.3,433.2L1658.9,433.4L1660.5,433.6"/>
<path stroke="#ffc000" d="M309.6,37.1L312.2,36.7L314.5,36.6L316.4,36.9L318.1,37.4L319.4,38.1L320.5,39.1L321.4,40.3L322.1,41.7L322.6,43.2L323.0,44.9L323.3,46.6L323.5,48.4L323.7,50.3L323.9,52.2L324.1,54.1L324.3,56.1L324.5,58.0L324.9,59.8L325.3,61.7L325.8,63.5L326.3,65.2L327.0,66.9L327.8,68.5L328.6,70.0L329.6,71.4L330.7,72.8L331.9,74.1L333.2,75.3L334.6,76.5L336.0,77.6L337.5,78.6L339.0,79.6L340.6,80.6L342.1,81.6L343.7,82.5L345.3,83.4L346.9,84.3L348.5,85.2L350.1,86.1L351.7,86.9L353.4,87.7L355.0,88.5L356.7,89.3L358.3,90.1L360.0,90.8L361.7,91.6L363.4,92.3L365.1,93.0L366.8,93.7L368.5,94.3L370.2,95.0L371.9,95.7L373.6,96.3L375.3,96.9L377.1,97.5L378.8,98.1L380.5,98.7L382.3,99.3L384.0,99.9L385.8,100.5L387.5,101.1L389.3,101.6L391.1,102.2L392.8,102.7L394.6,103.3L396.3,103.8L398.1,104.4L399.9,104.9L401.6,105.5L403.4,106.0L405.2,106.5L406.9,107.1L408.7,107.6L410.4,108.1L412.2,108.7L414.0,109.2L415.7,109.8L417.5,110.3L419.2,110.9L421.0,111.4L422.7,112.0L424.4,112.5L426.2,113.1L427.9,113.7L429.6,114.3L431.4,114.8L433.1,115.4L434.8,116.0L436.5,116.6L438.3,117.1L440.0,117.7L441.7,118.3L443.4,118.9L445.2,119.5L446.9,120.1L448.6,120.6L450.3,121.2L452.0,121.8L453.7,122.4L455.4,123.0L457.2,123.6L458.9,124.2L460.6,124.7L462.3,125.3L464.0,125.9L465.7,126.5L467.4,127.0L469.2,127.6L470.9,128.2L472.6,128.7L474.3,129.3L476.0,129.9L477.8,130.4L479.5,131.0L481.2,131.5L482.9,132.0L484.7,132.6L486.4,133.1L488.1,133.6L489.8,134.2L491.6,134.7L493.3,135.2L495.1,135.7L496.8,136.2L498.6,136.7L500.3,137.2L502.1,137.7L503.8,138.2L505.6,138.6L507.3,139.1L509.1,139.5L510.9,140.0L512.6,140.4L514.4,140.9L516.2,141.3L518.0,141.7L519.7,142.1L521.5,142.5L523.3,142.9L525.1,143.4L526.9,143.8L528.7,144.2L530.5,144.6L532.2,145.0L534.0,145.4L535.8,145.8L537.6,146.2L539.4,146.6L541.2,147.1L543.0,147.5L544.7,147.9L546.5,148.4L548.3,148.8L550.1,149.2L551.9,149.7L553.6,150.2L555.4,150.6L557.2,151.1L558.9,151.6L560.7,152.1L562.4,152.6L564.2,153.2L565.9,153.7L567.6,154.3L569.4,154.8L571.1,155.4L572.8,156.0L574.5,156.6L576.2,157.2L577.9,157.9L579.6,158.6L581.3,159.2L583.0,159.9L584.7,160.7L586.3,161.4L588.0,162.2L589.6,163.0L591.3,163.8L592.9,164.6L594.5,165.4L596.1,166.3L597.7,167.2L599.3,168.1L600.9,169.0L602.5,169.9L604.1,170.8L605.6,171.8L607.2,172.8L608.7,173.8L610.3,174.8L611.8,175.8L613.3,176.8L614.8,177.9L616.4,178.9L617.9,180.0L619.3,181.1L620.8,182.2L622.3,183.3L623.8,184.4L625.3,185.5L626.7,186.6L628.2,187.8L629.6,188.9L631.0,190.1L632.5,191.3L633.9,192.5L635.3,193.7L636.7,194.8L638.1,196.0L639.5,197.3L640.9,198.5L642.2,199.7L643.6,200.9L645.0,202.1L646.3,203.4L647.7,204.6L649.0,205.9L650.3,207.1L651.7,208.4L653.0,209.6L654.3,210.9L655.6,212.2L656.9,213.5L658.2,214.8L659.5,216.0L660.8,217.3L662.0,218.6L663.3,220.0L664.6,221.3L665.8,222.6L667.1,223.9L668.3,225.2L669.6,226.6L670.8,227.9L672.0,229.2L673.2,230.6L674.5,231.9L675.7,233.3L676.9,234.6L678.1,236.0L679.3,237.4L680.5,238.7L681.6,240.1L682.8,241.5L684.0,242.9L685.2,244.3L686.3,245.7L687.5,247.1L688.6,248.5L689.8,249.9L690.9,251.3L692.1,252.7L693.2,254.1L694.3,255.5L695.5,256.9L696.6,258.4L697.7,259.8L698.8,261.2L699.9,262.7L701.0,264.1L702.1,265.5L703.2,267.0L704.3,268.4L705.4,269.9L706.5,271.3L707.6,272.8L708.7,274.3L709.8,275.7L710.8,277.2L711.9,278.7L713.0,280.1L714.0,281.6L715.1,283.1L716.2,284.6L717.2,286.0L718.3,287.5L719.3,289.0L720.4,290.5L721.4,292.0L722.4,293.5L723.5,295.0L724.5,296.5L725.6,298.0L726.6,299.5L727.6,301.0L728.6,302.5L729.7,304.0L730.7,305.5L731.7,307.0L732.7,308.5L733.8,310.1L734.8,311.6L735.8,313.1L736.8,314.6L737.8,316.1L738.8,317.7L739.8,319.2L740.8,320.7L741.8,322.2L742.8,323.8L743.8,325.3L744.8,326.8L745.8,328.4L746.8,329.9L747.8,331.4L748.8,332.9L749.8,334.5L750.8,336.0L751.8,337.6L752.8,339.1L753.8,340.6L754.8,342.2L755.8,343.7L756.8,345.2L757.8,346.8L758.8,348.3L759.7,349.9L760.7,351.4L761.7,352.9L762.7,354.5L763.7,356.0L764.7,357.6L765.7,359.1L766.7,360.6L767.7,362.2L768.7,363.7L769.7,365.2L770.7,366.8L771.7,368.3L772.7,369.9L773.7,371.4L774.7,372.9L775.7,374.5L776.7,376.0L777.7,377.5L778.7,379.1L779.7,380.6L780.7,382.1L781.7,383.7L782.7,385.2L783.7,386.7L784.7,388.3L785.7,389.8L786.7,391.3L787.7,392.8L788.8,394.4L789.8,395.9L790.8,397.4L791.8,398.9L792.8,400.4L793.9,401.9L794.9,403.5L795.9,405.0L797.0,406.5L798.0,408.0L799.0,409.5L800.1,411.0L801.1,412.5L802.2,414.0L803.2,415.5L804.3,417.0L805.3,418.5L806.4,420.0L807.5,421.5L808.5,423.0L809.6,424.4L810.7,425.9L811.7,427.4L812.8,428.9L813.9,430.4L815.0,431.8L816.1,433.3L817.2,434.8L818.3,436.2L819.4,437.7L820.5,439.1L821.6,440.6L822.7,442.0L823.8,443.5L825.0,444.9L826.1,446.3L827.2,447.8L828.4,449.2L829.5,450.6L830.7,452.0L831.8,453.4L833.0,454.8L834.1,456.2L835.3,457.6L836.5,459.0L837.7,460.4L838.9,461.7L840.1,463.1L841.3,464.5L842.5,465.8L843.7,467.2L844.9,468.5L846.1,469.8L847.4,471.2L848.6,472.5L849.9,473.8L851.1,475.1L852.4,476.4L853.7,477.7L854.9,479.0L856.2,480.3L857.5,481.5L858.8,482.8L860.1,484.1L861.4,485.3L862.8,486.5L864.1,487.8L865.4,489.0L866.8,490.2L868.1,491.4L869.5,492.6L870.9,493.8L872.3,494.9L873.7,496.1L875.1,497.3L876.5,498.4L877.9,499.5L879.3,500.7L880.7,501.8L882.2,502.9L883.6,504.0L885.0,505.1L886.5,506.2L888.0,507.3L889.4,508.4L890.9,509.4L892.4,510.5L893.9,511.6L895.4,512.6L896.9,513.6L898.4,514.7L899.9,515.7L901.4,516.7L902.9,517.7L904.4,518.7L906.0,519.7L907.5,520.7L909.1,521.7L910.6,522.6L912.2,523.6L913.7,524.6L915.3,525.5L916.8,526.5L918.4,527.4L920.0,528.3L921.6,529.3L923.1,530.2L924.7,531.1L926.3,532.0L927.9,532.9L929.5,533.8L931.1,534.7L932.7,535.6L934.3,536.4L936.0,537.3L937.6,538.2L939.2,539.0L940.8,539.9L942.4,540.7L944.1,541.6L945.7,542.4L947.3,543.2L949.0,544.1L950.6,544.9L952.2,545.7L953.9,546.5L955.5,547.3L957.2,548.1L958.8,548.9L960.5,549.7L962.1,550.5L963.8,551.3L965.4,552.1L967.1,552.9L968.7,553.6L970.4,554.4L972.1,555.2L973.7,556.0L975.4,556.7L977.1,557.5L978.7,558.2L980.4,559.0L982.1,559.8L983.7,560.5L985.4,561.3L987.1,562.0L988.7,562.8L990.4,563.5L992.1,564.3L993.8,565.0L995.4,565.8L997.1,566.5L998.8,567.3L1000.5,568.0L1002.1,568.7L1003.8,569.5L1005.5,570.2L1007.2,571.0L1008.8,571.7L1010.5,572.5L1012.2,573.2L1013.8,574.0L1015.5,574.7L1017.2,575.5L1018.8,576.2L1020.5,577.0L1022.2,577.7L1023.8,578.5L1025.5,579.2L1027.2,580.0L1028.8,580.7L1030.5,581.5L1032.1,582.3L1033.8,583.0L1035.5,583.8L1037.1,584.6L1038.8,585.3L1040.4,586.1L1042.1,586.9L1043.7,587.7L1045.3,588.5L1047.0,589.2L1048.6,590.0L1050.3,590.8L1051.9,591.6L1053.5,592.4L1055.2,593.3L1056.8,594.1L1058.4,594.9L1060.0,595.7L1061.6,596.5L1063.3,597.4L1064.9,598.2L1066.5,599.0L1068.1,599.9L1069.7,600.8L1071.3,601.6L1072.9,602.5L1074.5,603.3L1076.0,604.2L1077.6,605.1L1079.2,606.0L1080.8,606.9L1082.3,607.8L1083.9,608.7L1085.5,609.6L1087.0,610.5L1088.6,611.5L1090.1,612.4L1091.7,613.4L1093.2,614.3L1094.8,615.3L1096.3,616.2L1097.8,617.2L1099.3,618.2L1100.9,619.2L1102.4,620.2L1103.9,621.2L1105.4,622.2L1106.9,623.2L1108.4,624.2L1109.9,625.3L1111.4,626.3L1112.8,627.3L1114.3,628.4L1115.8,629.4L1117.3,630.5L1118.8,631.6L1120.2,632.6L1121.7,633.7L1123.2,634.8L1124.6,635.9L1126.1,637.0L1127.5,638.1L1129.0,639.2L1130.4,640.3L1131.9,641.4L1133.3,642.5L1134.8,643.6L1136.2,644.7L1137.7,645.8L1139.1,647.0L1140.5,648.1L1142.0,649.2L1143.4,650.4L1144.8,651.5L1146.2,652.7L1147.7,653.8L1149.1,654.9L1150.5,656.1L1151.9,657.2L1153.4,658.4L1154.8,659.6L1156.2,660.7L1157.6,661.9L1159.0,663.0L1160.5,664.2L1161.9,665.4L1163.3,666.5L1164.7,667.7L1166.1,668.9L1167.5,670.0L1168.9,671.2L1170.4,672.4L1171.8,673.5L1173.2,674.7L1174.6,675.9L1176.0,677.1L1177.4,678.2L1178.8,679.4L1180.3,680.6L1181.7,681.7L1183.1,682.9L1184.5,684.1L1185.9,685.3L1187.3,686.4L1188.8,687.6L1190.2,688.7L1191.6,689.9L1193.0,691.1L1194.5,692.2L1195.9,693.4L1197.3,694.5L1198.7,695.7L1200.2,696.8L1201.6,698.0L1203.0,699.1L1204.5,700.3L1205.9,701.4L1207.4,702.6L1208.8,703.7L1210.2,704.8L1211.7,706.0L1213.1,707.1L1214.6,708.2L1216.0,709.3L1217.5,710.4L1219.0,711.5L1220.4,712.6L1221.9,713.7L1223.4,714.8L1224.8,715.9L1226.3,717.0L1227.8,718.1L1229.3,719.2L1230.7,720.3L1232.2,721.3L1233.7,722.4L1235.2,723.4L1236.7,724.5L1238.2,725.6L1239.7,726.6L1241.2,727.6L1242.7,728.7L1244.2,729.7L1245.7,730.7L1247.3,731.8L1248.8,732.8L1250.3,733.8L1251.8,734.8L1253.3,735.8L1254.9,736.8L1256.4,737.8L1257.9,738.8L1259.5,739.8L1261.0,740.7L1262.6,741.7L1264.1,742.7L1265.7,743.6L1267.2,744.6L1268.8,745.5L1270.3,746.5L1271.9,747.4L1273.5,748.3L1275.0,749.3L1276.6,750.2L1278.2,751.1L1279.8,752.0L1281.3,752.9L1282.9,753.8L1284.5,754.7L1286.1,755.6L1287.7,756.4L1289.3,757.3L1290.9,758.2L1292.5,759.0L1294.1,759.9L1295.7,760.7L1297.3,761.6L1298.9,762.4L1300.5,763.2L1302.2,764.1L1303.8,764.9L1305.4,765.7L1307.0,766.5L1308.7,767.3L1310.3,768.1L1312.0,768.8L1313.6,769.6L1315.2,770.4L1316.9,771.1L1318.5,771.9L1320.2,772.6L1321.9,773.4L1323.5,774.1L1325.2,774.8L1326.8,775.5L1328.5,776.3L1330.2,777.0L1331.9,777.6L1333.5,778.3L1335.2,779.0L1336.9,779.7L1338.6,780.4L1340.3,781.0L1342.0,781.7L1343.7,782.3L1345.4,783.0L1347.1,783.6L1348.8,784.2L1350.5,784.8L1352.2,785.5L1353.9,786.1L1355.7,786.7L1357.4,787.3L1359.1,787.8L1360.8,788.4L1362.5,789.0L1364.3,789.6L1366.0,790.1L1367.7,790.7L1369.5,791.3L1371.2,791.8L1373.0,792.3L1374.7,792.9L1376.4,793.4L1378.2,793.9L1379.9,794.5L1381.7,795.0L1383.4,795.5L1385.2,796.0L1387.0,796.5L1388.7,797.0L1390.5,797.5L1392.2,798.0L1394.0,798.5L1395.8,798.9L1397.5,799.4L1399.3,799.9L1401.1,800.3L1402.8,800.8L1404.6,801.2L1406.4,801.7L1408.2,802.1L1409.9,802.6L1411.7,803.0L1413.5,803.4L1415.3,803.9L1417.1,804.3L1418.9,804.7L1420.6,805.1L1422.4,805.5L1424.2,806.0L1426.0,806.4L1427.8,806.8L1429.6,807.2L1431.4,807.6L1433.2,808.0L1435.0,808.3L1436.8,808.7L1438.6,809.1L1440.4,809.5L1442.2,809.9L1443.9,810.2L1445.7,810.6L1447.5,811.0L1449.3,811.3L1451.1,811.7L1452.9,812.1L1454.7,812.4L1456.6,812.8L1458.4,813.1L1460.2,813.5L1462.0,813.8L1463.8,814.2L1465.6,814.5L1467.4,814.9L1469.2,815.2L1471.0,815.5L1472.8,815.9L1474.6,816.2L1476.4,816.5L1478.2,816.9L1480.0,817.2L1481.8,817.5L1483.6,817.8L1485.4,818.2L1487.2,818.5L1489.0,818.8L1490.8,819.1L1492.6,819.4L1494.4,819.8L1496.2,820.1L1498.0,820.4L1499.8,820.7L1501.6,821.0L1503.4,821.3L1505.2,821.6L1507.0,821.9L1508.8,822.3L1510.6,822.6L1512.4,822.9L1514.2,823.2L1516.0,823.5L1517.8,823.8L1519.6,824.1L1521.4,824.4L1523.2,824.7L1525.0,825.0L1526.8,825.3L1528.6,825.6L1530.4,825.9L1532.2,826.2L1534.0,826.5L1535.8,826.8L1537.6,827.1L1539.4,827.3L1541.2,827.6L1543.0,827.9L1544.8,828.2L1546.6,828.5L1548.4,828.8L1550.2,829.1L1551.9,829.3L1553.7,829.6L1555.5,829.9L1557.3,830.2L1559.1,830.4L1560.9,830.7L1562.7,831.0L1564.5,831.3L1566.3,831.5L1568.1,831.8L1569.9,832.1L1571.7,832.3L1573.5,832.6L1575.3,832.9L1577.1,833.1L1578.9,833.4L1580.7,833.6L1582.5,833.9L1584.3,834.2L1586.1,834.4L1587.9,834.7L1589.7,834.9L1591.5,835.2L1593.3,835.4L1595.1,835.7L1596.9,835.9L1598.7,836.1L1600.5,836.4L1602.3,836.6L1604.2,836.9L1606.0,837.1L1607.8,837.3L1609.6,837.6L1611.4,837.8L1613.2,838.0L1615.0,838.3L1616.8,838.5L1618.6,838.7L1620.4,838.9L1622.3,839.1L1624.1,839.4L1625.9,839.6L1627.7,839.8L1629.5,840.0L1631.3,840.2L1633.2,840.4L1635.0,840.6L1636.8,840.8L1638.6,841.0L1640.5,841.2L1642.3,841.4L1644.1,841.6L1645.9,841.8L1647.8,842.0L1649.6,842.2L1651.4,842.4L1653.2,842.6L1655.1,842.8L1656.9,843.0L1658.7,843.1L1660.6,843.3"/>
<path stroke="#ffc000" stroke-linecap="round" d="M314,38 L318,48 L322,60 L326,66"/>
</g>
<g font-family="'Liberation Serif', serif" font-weight="bold" font-size="51" fill="#000">
<text transform="translate(152.0,44.9) scale(1.000,1)" text-anchor="end">100</text>
<text transform="translate(206.2,44.9) scale(1.100,1)" text-anchor="end">%</text>
<text transform="translate(152.0,227.8) scale(0.960,1)" text-anchor="end">90</text>
<text transform="translate(206.2,227.8) scale(1.100,1)" text-anchor="end">%</text>
<text transform="translate(152.0,410.7) scale(0.960,1)" text-anchor="end">80</text>
<text transform="translate(206.2,410.7) scale(1.100,1)" text-anchor="end">%</text>
<text transform="translate(152.0,593.7) scale(0.960,1)" text-anchor="end">70</text>
<text transform="translate(206.2,593.7) scale(1.100,1)" text-anchor="end">%</text>
<text transform="translate(152.0,776.6) scale(0.960,1)" text-anchor="end">60</text>
<text transform="translate(206.2,776.6) scale(1.100,1)" text-anchor="end">%</text>
<text transform="translate(152.0,959.6) scale(0.960,1)" text-anchor="end">50</text>
<text transform="translate(206.2,959.6) scale(1.100,1)" text-anchor="end">%</text>
<text x="245.4" y="1019.5" text-anchor="middle">0</text>
<text x="480.5" y="1019.5" text-anchor="middle">100</text>
<text x="715.6" y="1019.5" text-anchor="middle">200</text>
<text x="950.8" y="1019.5" text-anchor="middle">300</text>
<text x="1185.8" y="1019.5" text-anchor="middle">400</text>
<text x="1421.0" y="1019.5" text-anchor="middle">500</text>
<text x="1656.0" y="1019.5" text-anchor="middle">600</text>
</g>
<text x="765" y="1103.8" font-family="'Liberation Serif', serif" font-size="50" fill="#000"><tspan font-weight="bold">Temperature </tspan><tspan>(°C)</tspan></text>
<text transform="translate(44.3,485.0) rotate(-90)" text-anchor="middle" font-family="'Liberation Serif', serif" font-weight="bold" font-size="50.5" fill="#000">Weight %</text>
<rect x="1159.80" y="491.70" width="45.20" height="2.90" fill="#c0e0f4"/>
<rect x="1159.80" y="487.00" width="45.20" height="4.70" fill="#4aa3dc"/>
<rect x="1162.00" y="487.00" width="41.20" height="4.70" fill="#0070c3"/>
<rect x="1159.80" y="548.30" width="45.20" height="1.00" fill="#e8e8e8"/>
<rect x="1159.80" y="543.20" width="45.20" height="5.10" fill="#a8a8a8"/>
<rect x="1162.00" y="543.20" width="41.20" height="5.10" fill="#7f7f7f"/>
<rect x="1159.80" y="597.10" width="45.20" height="2.70" fill="#ffe6a0"/>
<rect x="1159.80" y="599.80" width="45.20" height="5.20" fill="#ffd966"/>
<rect x="1162.00" y="599.80" width="41.20" height="5.20" fill="#ffc000"/>
<text transform="translate(1218.0,499.3) scale(1.025,1)" font-family="'Liberation Serif', serif" font-size="46" fill="#000">Fe<tspan font-size="30" dy="9">3</tspan><tspan dy="-9">O</tspan><tspan font-size="30" dy="9">4</tspan><tspan dy="-9">@MSNs</tspan></text>
<text transform="translate(1210.6,555.5) scale(1.025,1)" font-family="'Liberation Serif', serif" font-size="46" fill="#000">Fe<tspan font-size="30" dy="9">3</tspan><tspan dy="-9">O</tspan><tspan font-size="30" dy="9">4</tspan><tspan dy="-9">@MSNs-Br</tspan></text>
<text transform="translate(1218.0,611.8) scale(1.017,1)" font-family="'Liberation Serif', serif" font-size="46" fill="#000">Fe<tspan font-size="30" dy="9">3</tspan><tspan dy="-9">O</tspan><tspan font-size="30" dy="9">4</tspan><tspan dy="-9">@MSNs-PMETAC</tspan></text>
</svg>
</body></html>
